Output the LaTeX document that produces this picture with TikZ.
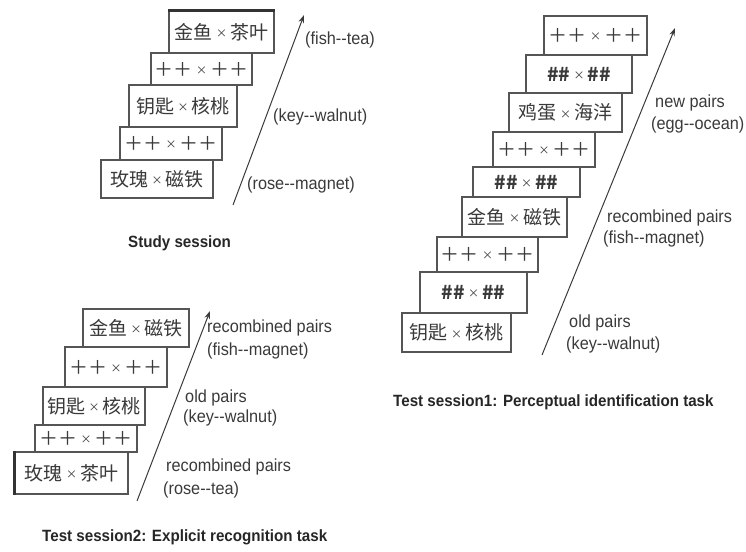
\documentclass[tikz,border=0pt]{standalone}
\usepackage{fontspec}
\setmainfont{Liberation Sans}[FakeStretch=0.93]
\newfontfamily\cjk{Noto Sans CJK SC}
\usetikzlibrary{arrows.meta}
\definecolor{ink}{HTML}{3A3A3A}
\definecolor{edge}{HTML}{555555}
\newcommand{\tm}{\,\raisebox{1.6pt}{\fontsize{11}{11}\selectfont ×}\,}
\newcommand{\pp}{{\cjk ＋＋}\tm{\cjk ＋＋}}
\newcommand{\hh}{{\bfseries\fontsize{19}{19}\selectfont\#\#}\tm{\bfseries\fontsize{19}{19}\selectfont\#\#}}
\newcommand{\ww}[2]{{\cjk #1}\tm{\cjk #2}}
\begin{document}
\begin{tikzpicture}[x=1pt,y=-1pt,
  stim/.style={draw=edge, line width=1.1pt, fill=white, inner sep=0pt, text=ink,
    font=\cjk\fontsize{19}{19}\selectfont},
  lab/.style={anchor=west, inner sep=0pt, text=ink, font=\fontsize{17.5}{17.5}\selectfont},
  ttl/.style={anchor=west, inner sep=0pt, text=black!85, font=\bfseries\fontsize{16.3}{16.3}\selectfont},
  arr/.style={draw=ink, line width=1pt, -{Stealth[length=8pt,width=5.5pt]}}]
\useasboundingbox (0,0) rectangle (746,551);
% ---------- Study session ----------
\node[stim, minimum width=105pt, minimum height=42pt] (s1) at (221.5,32) {\ww{金鱼}{茶叶}};
\node[stim, minimum width=101pt, minimum height=32pt] (s2) at (201.5,69) {\pp};
\node[stim, minimum width=108pt, minimum height=42pt] (s3) at (183,106) {\ww{钥匙}{核桃}};
\node[stim, minimum width=102pt, minimum height=33pt] (s4) at (171,143.5) {\pp};
\node[stim, minimum width=112pt, minimum height=38pt] (s5) at (157,179) {\ww{玫瑰}{磁铁}};
\draw[line width=2.6pt, black!80] (s1.north west) -- (s1.north east);
\coordinate (sa) at (233,205);
\coordinate (sb) at (304,15);
\draw[arr] (sa) -- (sb);
\node[lab] (sl1) at (305,40) {(fish-{}-tea)};
\node[lab] (sl2) at (273,117) {(key-{}-walnut)};
\node[lab] (sl3) at (247,185) {(rose-{}-magnet)};
\node[ttl] (st) at (128,243) {Study session};
% ---------- Test session 2 ----------
\node[stim, minimum width=106pt, minimum height=38pt] (t1) at (136,328) {\ww{金鱼}{磁铁}};
\node[stim, minimum width=102pt, minimum height=40pt] (t2) at (116,367) {\pp};
\node[stim, minimum width=102pt, minimum height=38pt] (t3) at (94,406) {\ww{钥匙}{核桃}};
\node[stim, minimum width=102pt, minimum height=27pt] (t4) at (86,438.5) {\pp};
\node[stim, minimum width=113pt, minimum height=42pt] (t5) at (71.5,473) {\ww{玫瑰}{茶叶}};
\draw[line width=2.4pt, black!80] (t5.north west) -- (t5.south west);
\coordinate (ta) at (137,501);
\coordinate (tb) at (210,311);
\draw[arr] (ta) -- (tb);
\node[lab] (tl1) at (207,328) {recombined pairs};
\node[lab] (tl2) at (207,351) {(fish-{}-magnet)};
\node[lab] (tl3) at (185,398) {old pairs};
\node[lab] (tl4) at (183,418) {(key-{}-walnut)};
\node[lab] (tl5) at (166,467) {recombined pairs};
\node[lab] (tl6) at (163,490) {(rose-{}-tea)};
\node[ttl] (tt) at (42,537) {Test session2: Explicit recognition task};
% ---------- Test session 1 ----------
\node[stim, minimum width=103pt, minimum height=39pt] (p1) at (595.5,35.5) {\pp};
\node[stim, minimum width=106pt, minimum height=38pt] (p2) at (579,74) {\hh};
\node[stim, minimum width=113pt, minimum height=39pt] (p3) at (565.5,112.5) {\ww{鸡蛋}{海洋}};
\node[stim, minimum width=102pt, minimum height=35pt] (p4) at (544,149.5) {\pp};
\node[stim, minimum width=107pt, minimum height=30pt] (p5) at (526.5,182) {\hh};
\node[stim, minimum width=105pt, minimum height=40pt] (p6) at (514.5,217) {\ww{金鱼}{磁铁}};
\node[stim, minimum width=101pt, minimum height=35pt] (p7) at (487.5,254.5) {\pp};
\node[stim, minimum width=107pt, minimum height=41pt] (p8) at (473.5,292.5) {\hh};
\node[stim, minimum width=109pt, minimum height=39pt] (p9) at (456.5,332.5) {\ww{钥匙}{核桃}};
\coordinate (pa) at (542,355);
\coordinate (pb) at (675,28);
\draw[arr] (pa) -- (pb);
\node[lab] (pl1) at (655,103) {new pairs};
\node[lab] (pl2) at (651,125) {(egg-{}-ocean)};
\node[lab] (pl3) at (607,218) {recombined pairs};
\node[lab] (pl4) at (603,239) {(fish-{}-magnet)};
\node[lab] (pl5) at (569,323) {old pairs};
\node[lab] (pl6) at (566,345) {(key-{}-walnut)};
\node[ttl] (pt) at (393,402) {Test session1: Perceptual identification task};
\end{tikzpicture}
\end{document}
